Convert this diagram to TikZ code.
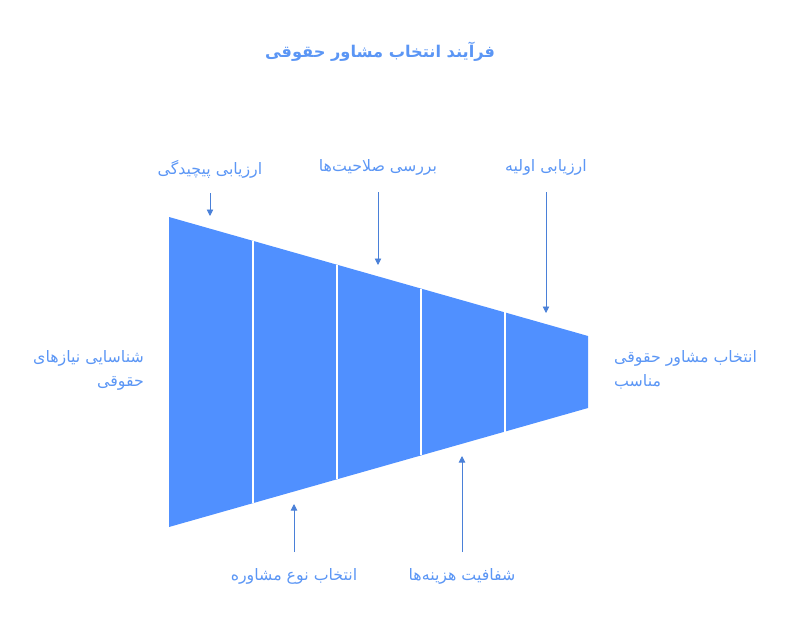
\documentclass[tikz,border=0pt]{standalone}
\usepackage{fontspec}
\TeXXeTstate=1
\newfontfamily\arabicfont[Script=Arabic]{DejaVu Sans}
\usetikzlibrary{arrows.meta}
\definecolor{funnelblue}{HTML}{5090FF}
\definecolor{txtblue}{HTML}{5B96F5}
\definecolor{arrblue}{HTML}{4A80D8}
\tikzset{
  lbl/.style={text=txtblue, font=\arabicfont\fontsize{15.8}{24}\selectfont, inner sep=0pt},
  ttl/.style={text=txtblue, font=\arabicfont\bfseries\fontsize{16.2}{20}\selectfont, inner sep=0pt},
  pointer/.style={draw=arrblue, line width=0.9pt, -{Triangle[width=6.5pt,length=6.5pt]}},
  divider/.style={draw=white, line width=1.5pt}
}
\begin{document}
\begin{tikzpicture}[x=1pt,y=-1pt]
\useasboundingbox (0,0) rectangle (793,637);
% funnel
\fill[funnelblue] (169,217) -- (588,336) -- (588,408) -- (169,527) -- cycle;
\draw[divider] (253,240.9) -- (253,503.1);
\draw[divider] (337,264.7) -- (337,479.3);
\draw[divider] (421,288.6) -- (421,455.4);
\draw[divider] (505,312.4) -- (505,431.6);
% title
\node[ttl] (title) at (380,52) {\beginR فرآیند انتخاب مشاور حقوقی\endR};
% top labels
\node[lbl] (l1) at (210,169) {\beginR ارزیابی پیچیدگی\endR};
\node[lbl] (l2) at (378,167) {\beginR بررسی صلاحیت‌ها\endR};
\node[lbl] (l3) at (546,167) {\beginR ارزیابی اولیه\endR};
% side labels
\node[lbl, anchor=east, align=right] (ls) at (144,370) {\beginR شناسایی نیازهای\endR\\\beginR حقوقی\endR};
\node[lbl, anchor=west, align=left] (rs) at (614,370) {\beginR انتخاب مشاور حقوقی\endR\\\beginR مناسب\endR};
% bottom labels
\node[lbl] (b1) at (294,576) {\beginR انتخاب نوع مشاوره\endR};
\node[lbl] (b2) at (462,576) {\beginR شفافیت هزینه‌ها\endR};
% arrow coordinates
\coordinate (a1s) at (210,193); \coordinate (a1e) at (210,216);
\coordinate (a2s) at (378,192); \coordinate (a2e) at (378,265);
\coordinate (a3s) at (546,192); \coordinate (a3e) at (546,313);
\coordinate (b1s) at (294,552); \coordinate (b1e) at (294,504);
\coordinate (b2s) at (462,552); \coordinate (b2e) at (462,456);
\draw[pointer] (a1s) -- (a1e);
\draw[pointer] (a2s) -- (a2e);
\draw[pointer] (a3s) -- (a3e);
\draw[pointer] (b1s) -- (b1e);
\draw[pointer] (b2s) -- (b2e);
\end{tikzpicture}
\end{document}
